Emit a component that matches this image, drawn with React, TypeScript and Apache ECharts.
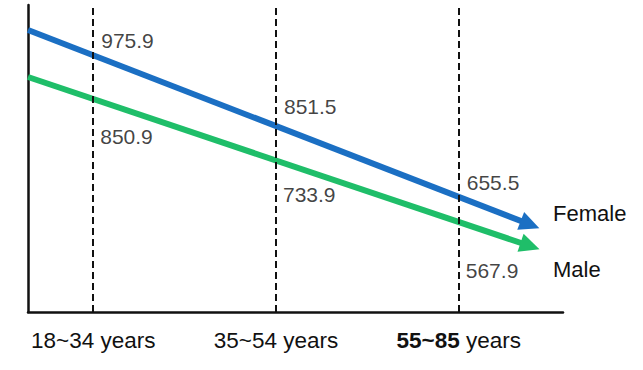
import React, { useEffect, useRef } from "react";
import * as echarts from "echarts";

// ---- data ----
const ageGroups = ["18~34 years", "35~54 years", "55~85 years"];
const boldPart = ["", "", "55~85"];
const seriesNames = ["Female", "Male"];
const femaleValues = [975.9, 851.5, 655.5];
const maleValues = [850.9, 733.9, 567.9];

// least-squares trend over the category index
function trendOf(values: number[]) {
  const n = values.length;
  const mx = (n - 1) / 2;
  const my = values.reduce((a, b) => a + b, 0) / n;
  let sxy = 0;
  let sxx = 0;
  values.forEach((v, i) => {
    sxy += (i - mx) * (v - my);
    sxx += (i - mx) * (i - mx);
  });
  const slope = sxy / sxx;
  return (x: number) => my + slope * (x - mx);
}

const BLUE = "#1b6fc3";
const GREEN = "#1fbe69";
const INK = "#111111";
const NUM_FONT = "'Liberation Sans', Arial, Helvetica, sans-serif";
const TXT_FONT = "'Liberation Sans', Arial, Helvetica, sans-serif";

const X_MIN = -0.357;
const X_MAX = 2.5704;
const ARROW_X = 2.39;

export default function App() {
  const ref = useRef<HTMLDivElement>(null);

  useEffect(() => {
    if (!ref.current) return;
    const chart = echarts.init(ref.current, null, { renderer: "svg" });
    const tF = trendOf(femaleValues);
    const tM = trendOf(maleValues);
    const femaleNudge = [-20, -9, -20];
    const maleNudge = [34, 41, 45];

    const trendSeries = (
      name: string,
      color: string,
      axis: number,
      t: (x: number) => number,
      rot: number,
      labelOffset: number[]
    ) => ({
      name,
      type: "line",
      yAxisIndex: axis,
      silent: true,
      z: 3,
      showSymbol: true,
      showAllSymbol: true,
      symbol: "none",
      lineStyle: { color, width: 6, cap: "butt" },
      itemStyle: { color },
      data: [
        { value: [X_MIN, t(X_MIN)], symbol: "none" },
        {
          value: [ARROW_X, t(ARROW_X)],
          symbol: "triangle",
          symbolSize: [19, 20],
          symbolRotate: rot,
        },
      ],
      endLabel: {
        show: true,
        formatter: "{a}",
        color: INK,
        fontSize: 22,
        fontFamily: TXT_FONT,
        distance: 0,
        offset: labelOffset,
      },
    });

    const valueSeries = (
      name: string,
      axis: number,
      values: number[],
      nudge: number[],
      dist: number,
      withMarks: boolean
    ) => ({
      name,
      type: "scatter",
      yAxisIndex: axis,
      silent: true,
      symbol: "circle",
      symbolSize: 2,
      itemStyle: { color: "rgba(0,0,0,0)" },
      z: 4,
      data: values.map((v, i) => ({
        value: [i, v],
        label: { offset: [0, nudge[i]] },
      })),
      label: {
        show: true,
        position: "right",
        distance: dist,
        color: INK,
        fontSize: 21,
        fontFamily: NUM_FONT,
        formatter: (p: any) => String(p.value[1].toFixed(1)),
      },
      markLine: withMarks
        ? {
            silent: true,
            symbol: ["none", "none"],
            label: { show: false },
            lineStyle: { color: INK, width: 2, type: [7, 4] },
            data: ageGroups.map((_, i) => ({ xAxis: i })),
          }
        : undefined,
    });

    const build = (rotF: number, rotM: number) => ({
      animation: false,
      backgroundColor: "#ffffff",
      grid: { left: 28, right: 80, top: 5, bottom: 58 },
      xAxis: {
        type: "value",
        min: X_MIN,
        max: X_MAX,
        axisLine: { show: true, onZero: false, lineStyle: { color: INK, width: 2.5 } },
        axisTick: { show: false },
        splitLine: { show: false },
        axisLabel: {
          show: true,
          customValues: [0, 1, 2],
          margin: 16,
          fontSize: 22.5,
          lineHeight: 24,
          color: INK,
          fontFamily: TXT_FONT,
          formatter: (v: number) => {
            const i = Math.round(v);
            const name = ageGroups[i] ?? "";
            const b = boldPart[i];
            if (b && name.startsWith(b)) return `{b|${b}}${name.slice(b.length)}`;
            return name;
          },
          rich: {
            b: { fontWeight: "bold", fontSize: 22.5, color: INK, fontFamily: TXT_FONT, lineHeight: 24 },
          },
        },
      },
      yAxis: [
        {
          type: "value",
          min: 407.1,
          max: 1101.6,
          axisLine: { show: true, onZero: false, lineStyle: { color: INK, width: 2.5 } },
          axisTick: { show: false },
          axisLabel: { show: false },
          splitLine: { show: false },
        },
        {
          type: "value",
          min: 369.0,
          max: 1075.2,
          show: false,
          axisLine: { onZero: false },
          splitLine: { show: false },
        },
      ],
      series: [
        trendSeries(seriesNames[0], BLUE, 0, tF, rotF, [23, -11]),
        trendSeries(seriesNames[1], GREEN, 1, tM, rotM, [23, 24]),
        valueSeries(seriesNames[0] + " values", 0, femaleValues, femaleNudge, 7, true),
        valueSeries(seriesNames[1] + " values", 1, maleValues, maleNudge, 6, false),
      ],
    });

    chart.setOption(build(-111, -108.6) as any, true);
    const rotFor = (seriesIndex: number, t: (x: number) => number) => {
      const a = chart.convertToPixel({ seriesIndex }, [X_MIN, t(X_MIN)]) as number[];
      const b = chart.convertToPixel({ seriesIndex }, [ARROW_X, t(ARROW_X)]) as number[];
      if (!a || !b) return -110;
      const th = (Math.atan2(b[1] - a[1], b[0] - a[0]) * 180) / Math.PI;
      return -(90 + th);
    };
    const rF = rotFor(0, tF);
    const rM = rotFor(1, tM);
    chart.setOption(build(rF, rM) as any, true);

    return () => chart.dispose();
  }, []);

  return (
    <div
      ref={ref}
      style={{ position: "fixed", left: 0, top: 0, width: 643, height: 370, background: "#fff" }}
    />
  );
}
